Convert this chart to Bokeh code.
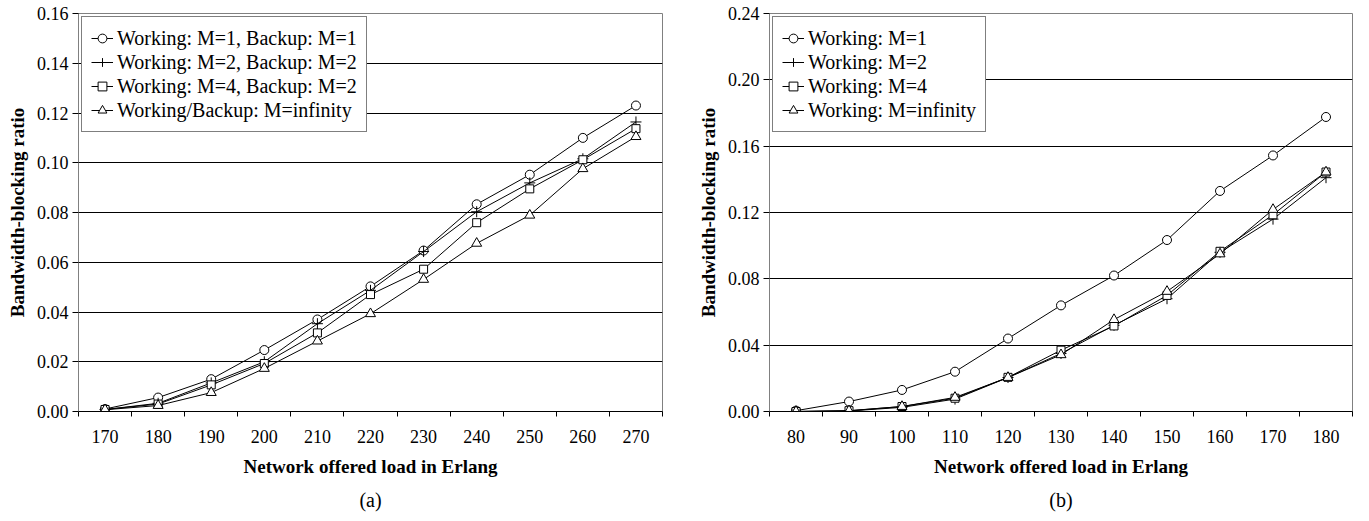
from bokeh.plotting import figure
from bokeh.layouts import row
from bokeh.models import FixedTicker, Range1d, Title, PrintfTickFormatter
from bokeh.embed import file_html
from bokeh.resources import INLINE

# ---------------- data ----------------
load_a = [170, 180, 190, 200, 210, 220, 230, 240, 250, 260, 270]
a_m1 = [0.0010, 0.0056, 0.0130, 0.0247, 0.0370, 0.0503, 0.0647, 0.0833, 0.0952, 0.1100, 0.1230]
a_m2 = [0.0008, 0.0033, 0.0115, 0.0200, 0.0353, 0.0487, 0.0643, 0.0803, 0.0919, 0.1016, 0.1164]
a_m4 = [0.0008, 0.0030, 0.0107, 0.0193, 0.0316, 0.0470, 0.0572, 0.0759, 0.0895, 0.1012, 0.1137]
a_inf = [0.0007, 0.0024, 0.0076, 0.0173, 0.0283, 0.0393, 0.0531, 0.0676, 0.0789, 0.0976, 0.1105]
labels_a = ["Working: M=1, Backup: M=1", "Working: M=2, Backup: M=2",
            "Working: M=4, Backup: M=2", "Working/Backup: M=infinity"]
yticks_a = [0.00, 0.02, 0.04, 0.06, 0.08, 0.10, 0.12, 0.14, 0.16]

load_b = [80, 90, 100, 110, 120, 130, 140, 150, 160, 170, 180]
b_m1 = [0.0005, 0.0060, 0.0130, 0.0240, 0.0440, 0.0640, 0.0820, 0.1034, 0.1330, 0.1544, 0.1776]
b_m2 = [0.0000, 0.0003, 0.0025, 0.0075, 0.0205, 0.0350, 0.0520, 0.0680, 0.0960, 0.1160, 0.1410]
b_m4 = [0.0000, 0.0005, 0.0030, 0.0080, 0.0206, 0.0370, 0.0516, 0.0700, 0.0966, 0.1186, 0.1444]
b_inf = [0.0000, 0.0004, 0.0030, 0.0085, 0.0205, 0.0342, 0.0554, 0.0724, 0.0950, 0.1218, 0.1444]
labels_b = ["Working: M=1", "Working: M=2", "Working: M=4", "Working: M=infinity"]
yticks_b = [0.00, 0.04, 0.08, 0.12, 0.16, 0.20, 0.24]

x_title = "Network offered load in Erlang"
y_title = "Bandwidth-blocking ratio"

FONT = "Liberation Serif"
markers = ["circle", "cross", "square", "triangle"]
msizes = [9, 11, 8, 10]


def make_fig(x, series, labels, yticks, width, left, right, caption):
    step = x[1] - x[0]
    p = figure(width=width, height=518, output_backend="svg", toolbar_location=None,
               x_range=Range1d(x[0] - step / 2, x[-1] + step / 2),
               y_range=Range1d(yticks[0], yticks[-1]),
               min_border_left=left, min_border_right=right,
               min_border_top=13, min_border_bottom=107,
               background_fill_color="white", border_fill_color="white")
    p.outline_line_color = "#808080"
    p.outline_line_width = 1

    for ys, lab, mk, ms in zip(series, labels, markers, msizes):
        p.line(x, ys, line_color="black", line_width=1, legend_label=lab)
        p.scatter(x, ys, marker=mk, size=ms, line_color="black", line_width=1,
                  fill_color="white", legend_label=lab)

    # x axis: labels at category centres, tick marks between categories
    bounds = [v - step / 2 for v in x] + [x[-1] + step / 2]
    xa = p.xaxis[0]
    xa.ticker = FixedTicker(ticks=x, minor_ticks=bounds)
    xa.major_tick_out = 0
    xa.major_tick_in = 0
    xa.minor_tick_out = 5
    xa.minor_tick_in = 0
    xa.minor_tick_line_color = "black"
    xa.axis_line_color = "black"
    xa.major_label_standoff = 13
    xa.major_label_text_font = FONT
    xa.major_label_text_font_size = "18px"
    xa.major_label_text_color = "black"
    xa.axis_label = x_title
    xa.axis_label_text_font = FONT
    xa.axis_label_text_font_style = "bold"
    xa.axis_label_text_font_size = "19px"
    xa.axis_label_text_color = "black"
    xa.axis_label_standoff = 10

    ya = p.yaxis[0]
    ya.ticker = FixedTicker(ticks=yticks, minor_ticks=[])
    ya.formatter = PrintfTickFormatter(format="%.2f")
    ya.major_tick_out = 6
    ya.major_tick_in = 0
    ya.minor_tick_out = 0
    ya.major_tick_line_color = "black"
    ya.axis_line_color = "#808080"
    ya.major_label_standoff = 4
    ya.major_label_text_font = FONT
    ya.major_label_text_font_size = "18px"
    ya.major_label_text_color = "black"
    ya.axis_label = y_title
    ya.axis_label_text_font = FONT
    ya.axis_label_text_font_style = "bold"
    ya.axis_label_text_font_size = "19px"
    ya.axis_label_text_color = "black"
    ya.axis_label_standoff = 6

    p.xgrid.grid_line_color = None
    p.ygrid.grid_line_color = "black"
    p.ygrid.grid_line_width = 1

    lg = p.legend[0]
    lg.location = "top_left"
    lg.margin = 3
    lg.padding = 9
    lg.spacing = 0
    lg.label_height = 24
    lg.glyph_height = 24
    lg.glyph_width = 22
    lg.label_standoff = 4
    lg.label_text_font = FONT
    lg.label_text_font_size = "20px"
    lg.label_text_color = "black"
    lg.border_line_color = "black"
    lg.border_line_width = 1
    lg.background_fill_color = "white"
    lg.background_fill_alpha = 1.0

    cap = Title(text=caption, align="center", text_font=FONT, text_font_size="20px",
                text_font_style="normal", text_color="black", standoff=14)
    p.add_layout(cap, "below")
    return p


pa = make_fig(load_a, [a_m1, a_m2, a_m4, a_inf], labels_a, yticks_a, 694, 78, 32, "(a)")
pb = make_fig(load_b, [b_m1, b_m2, b_m4, b_inf], labels_b, yticks_b, 668, 70, 10, "(b)")

layout = row(pa, pb)
open("out.html", "w").write(file_html(layout, INLINE))
